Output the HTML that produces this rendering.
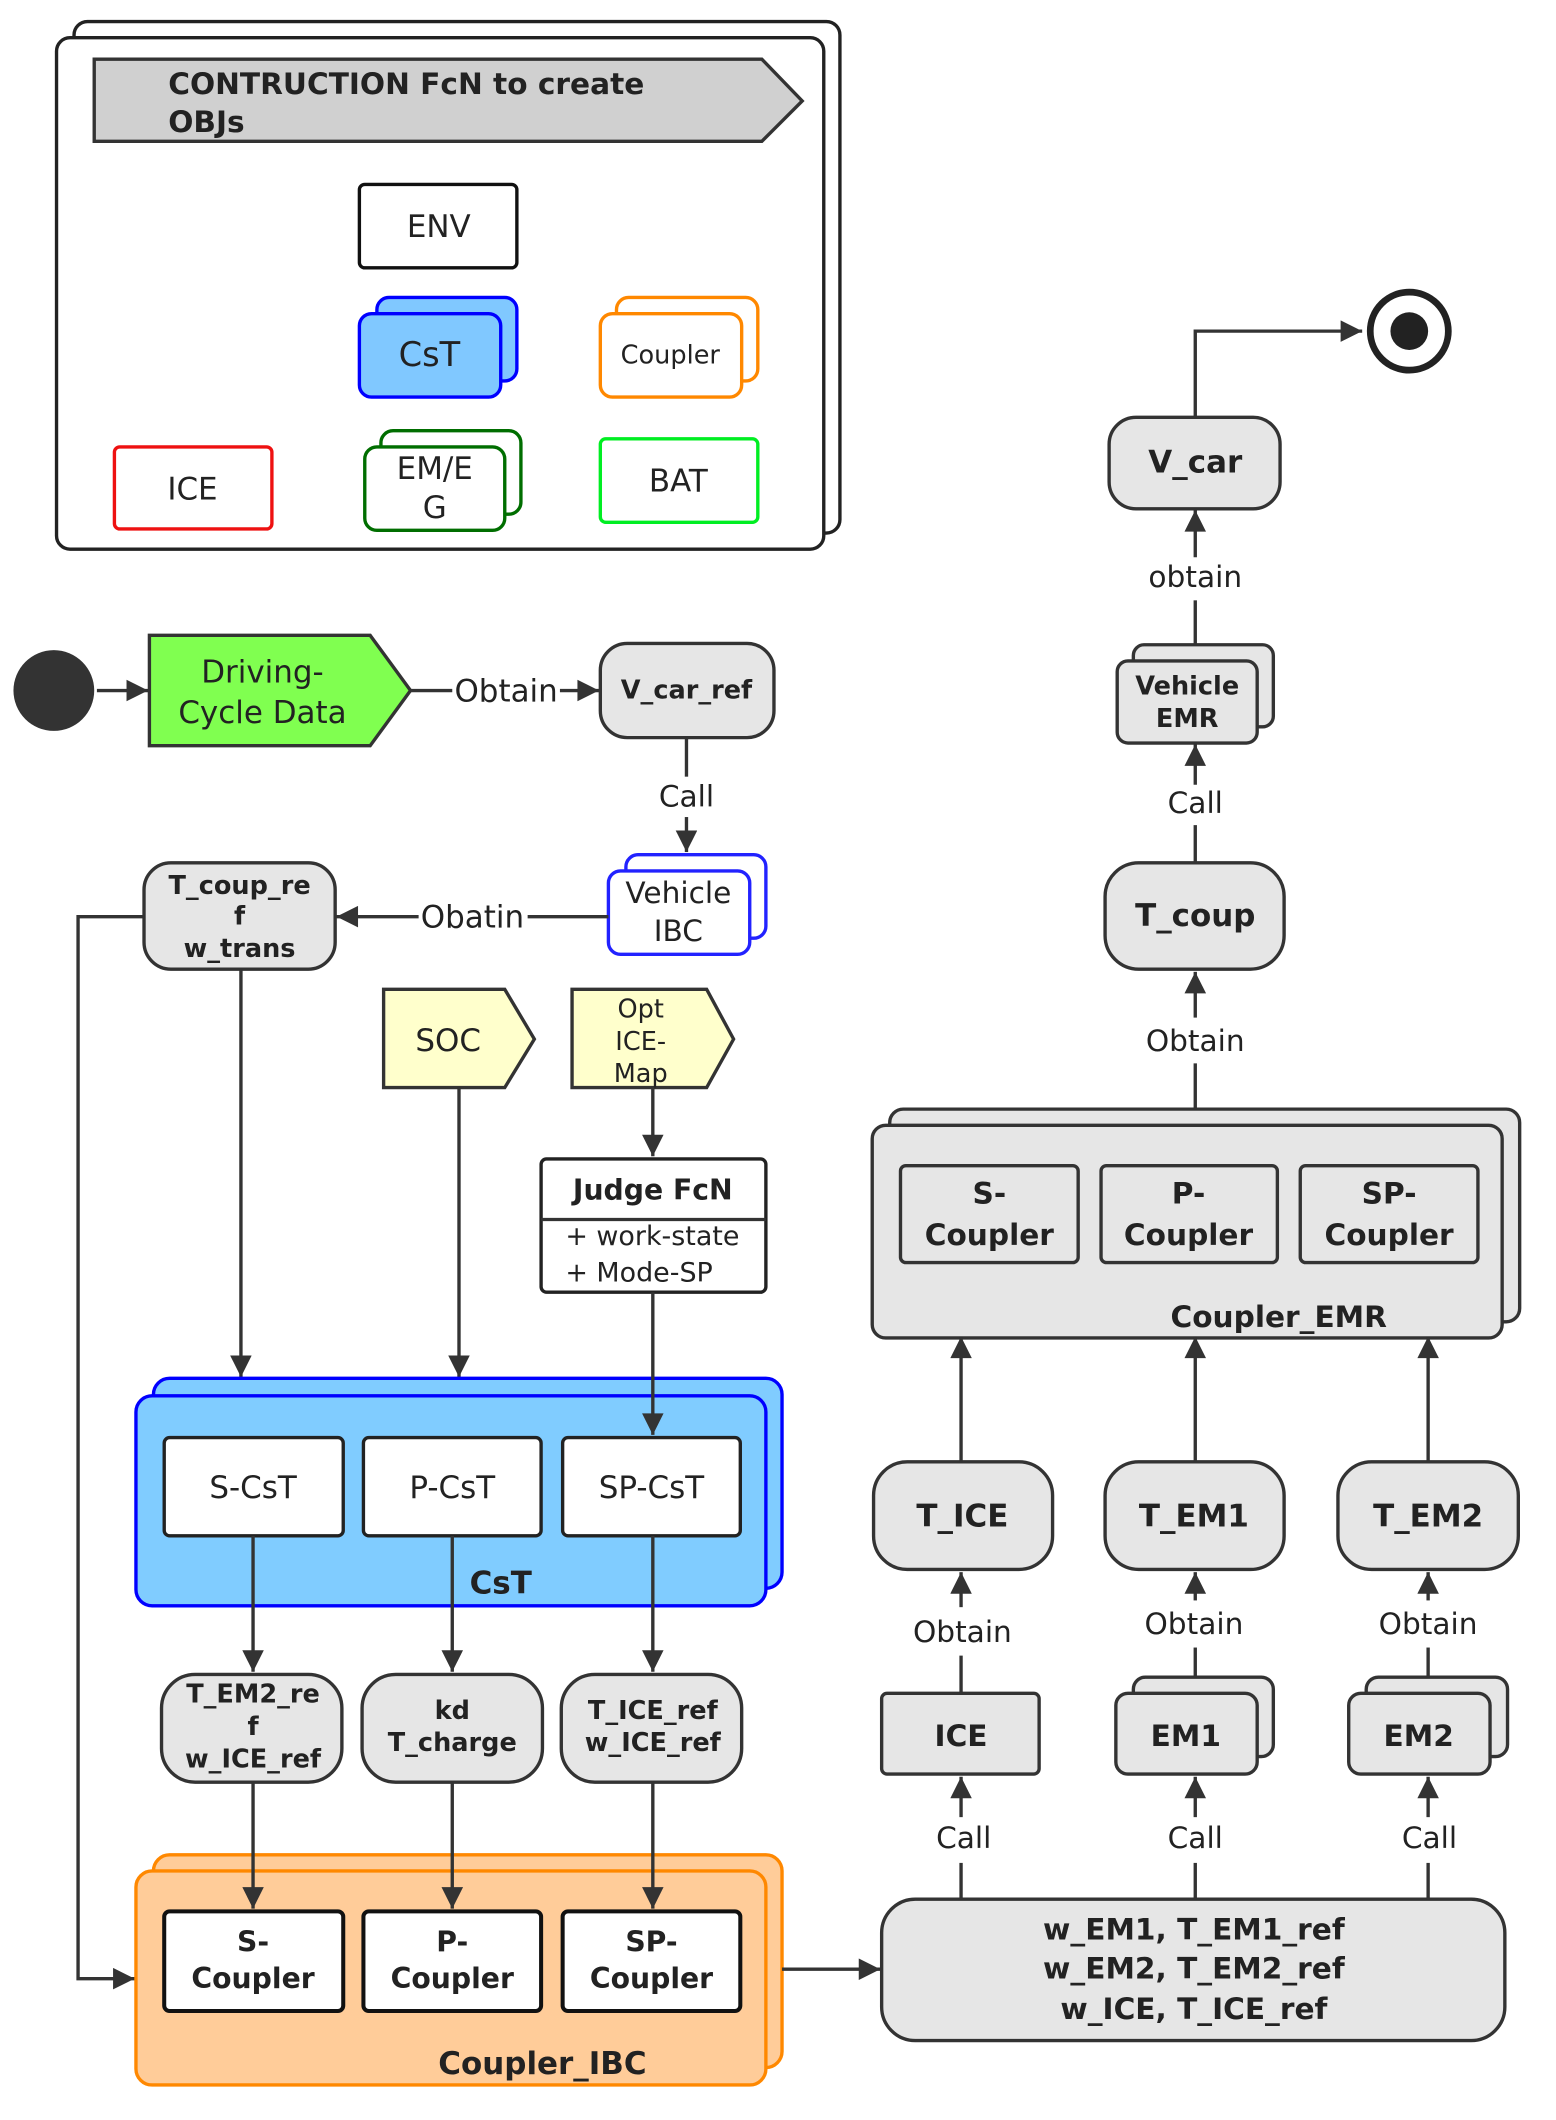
<!DOCTYPE html>
<html><head><meta charset="utf-8"><style>html,body{margin:0;padding:0;background:#fff}svg{display:block}</style></head>
<body>
<svg xmlns="http://www.w3.org/2000/svg" width="1556" height="2120" viewBox="0 0 1156 1575">
<defs>
<marker id="b" viewBox="0 0 10 10" refX="10" refY="5" markerWidth="22" markerHeight="16" orient="auto" markerUnits="userSpaceOnUse"><path d="M0,0L10,5L0,10z" fill="#333"/></marker>
</defs>
<style>
text{font-family:"DejaVu Sans","Liberation Sans",sans-serif;fill:#222;text-anchor:middle}
.b{font-weight:bold}
.l{stroke:#333;stroke-width:2.5;fill:none}
.g{fill:#e6e6e6;stroke:#333;stroke-width:2.5}
.w{fill:#fff;stroke:#222;stroke-width:2.5}
</style>
<rect x="55" y="16" width="569" height="380" rx="10" class="w"/>
<rect x="42" y="28" width="570" height="380" rx="10" class="w"/>
<polygon points="70,44 566,44 596,75 566,105 70,105" fill="#d0d0d0" stroke="#333" stroke-width="2.5"/>
<text x="125" y="70" class="b" font-size="22" style="text-anchor:start">CONTRUCTION FcN to create</text>
<text x="125" y="98" class="b" font-size="22" style="text-anchor:start">OBJs</text>
<rect x="267" y="137" width="117" height="62" rx="4" fill="#fff" stroke="#111" stroke-width="2.5"/>
<text x="326" y="176" font-size="23">ENV</text>
<rect x="280" y="221" width="104" height="62" rx="9" fill="#80c8ff" stroke="#0000ff" stroke-width="2.5"/>
<rect x="267" y="233" width="105" height="62" rx="9" fill="#80c8ff" stroke="#0000ff" stroke-width="2.5"/>
<text x="319" y="272" font-size="25">CsT</text>
<rect x="458" y="221" width="105" height="62" rx="9" fill="#fff" stroke="#ff8800" stroke-width="2.5"/>
<rect x="446" y="233" width="105" height="62" rx="9" fill="#fff" stroke="#ff8800" stroke-width="2.5"/>
<text x="498" y="270" font-size="19">Coupler</text>
<rect x="85" y="332" width="117" height="61" rx="4" fill="#fff" stroke="#ee1111" stroke-width="2.5"/>
<text x="143" y="371" font-size="23">ICE</text>
<rect x="283" y="320" width="104" height="62" rx="9" fill="#fff" stroke="#006e00" stroke-width="2.5"/>
<rect x="271" y="332" width="104" height="62" rx="9" fill="#fff" stroke="#006e00" stroke-width="2.5"/>
<text x="323" y="356" font-size="23">EM/E</text>
<text x="323" y="385" font-size="23">G</text>
<rect x="446" y="326" width="117" height="62" rx="4" fill="#fff" stroke="#00ee22" stroke-width="2.5"/>
<text x="504" y="365" font-size="23">BAT</text>

<circle cx="40" cy="513" r="30" fill="#333"/>
<line x1="72" y1="513" x2="110" y2="513" class="l" marker-end="url(#b)"/>
<polygon points="111,472 275,472 305,513 275,554 111,554" fill="#80ff50" stroke="#333" stroke-width="2.5"/>
<text x="195" y="507" font-size="23">Driving-</text>
<text x="195" y="537" font-size="23">Cycle Data</text>
<line x1="305" y1="513" x2="336" y2="513" class="l"/>
<text x="376" y="521" font-size="23">Obtain</text>
<line x1="416" y1="513" x2="445" y2="513" class="l" marker-end="url(#b)"/>
<rect x="446" y="478" width="129" height="70" rx="20" class="g"/>
<text x="510" y="519" class="b" font-size="19">V_car_ref</text>
<line x1="510" y1="548" x2="510" y2="577" class="l"/>
<text x="510" y="599" font-size="22">Call</text>
<line x1="510" y1="607" x2="510" y2="633" class="l" marker-end="url(#b)"/>
<rect x="465" y="635" width="104" height="62" rx="9" fill="#fff" stroke="#2222ff" stroke-width="2.5"/>
<rect x="452" y="647" width="105" height="62" rx="9" fill="#fff" stroke="#2222ff" stroke-width="2.5"/>
<text x="504" y="671" font-size="22">Vehicle</text>
<text x="504" y="699" font-size="22">IBC</text>
<line x1="452" y1="681" x2="392" y2="681" class="l"/>
<text x="351" y="689" font-size="23">Obatin</text>
<line x1="311" y1="681" x2="250" y2="681" class="l" marker-end="url(#b)"/>
<rect x="107" y="641" width="142" height="79" rx="20" class="g"/>
<text x="178" y="664" class="b" font-size="19">T_coup_re</text>
<text x="178" y="687" class="b" font-size="19">f</text>
<text x="178" y="711" class="b" font-size="19">w_trans</text>
<polyline points="107,681 58,681 58,1470 100,1470" class="l" marker-end="url(#b)"/>
<line x1="179" y1="720" x2="179" y2="1023" class="l" marker-end="url(#b)"/>
<polygon points="285,735 375,735 397,772 375,808 285,808" fill="#ffffcc" stroke="#333" stroke-width="2.5"/>
<text x="333" y="781" font-size="23">SOC</text>
<polygon points="425,735 525,735 545,772 525,808 425,808" fill="#ffffcc" stroke="#333" stroke-width="2.5"/>
<text x="476" y="756" font-size="19">Opt</text>
<text x="476" y="780" font-size="19">ICE-</text>
<text x="476" y="804" font-size="19">Map</text>
<line x1="341" y1="808" x2="341" y2="1023" class="l" marker-end="url(#b)"/>
<line x1="485" y1="808" x2="485" y2="859" class="l" marker-end="url(#b)"/>
<rect x="402" y="861" width="167" height="99" rx="4" class="w"/>
<line x1="402" y1="906" x2="569" y2="906" class="l"/>
<text x="485" y="891" class="b" font-size="21">Judge FcN</text>
<text x="420" y="925" font-size="20" style="text-anchor:start">+ work-state</text>
<text x="420" y="952" font-size="20" style="text-anchor:start">+ Mode-SP</text>

<rect x="114" y="1024" width="467" height="156" rx="12" fill="#80ccff" stroke="#0000ff" stroke-width="2.5"/>
<rect x="101" y="1037" width="468" height="156" rx="12" fill="#80ccff" stroke="#0000ff" stroke-width="2.5"/>
<line x1="485" y1="960" x2="485" y2="1066" class="l" marker-end="url(#b)"/>
<text x="372" y="1184" class="b" font-size="23">CsT</text>
<rect x="122" y="1068" width="133" height="73" rx="4" class="w"/>
<rect x="270" y="1068" width="132" height="73" rx="4" class="w"/>
<rect x="418" y="1068" width="132" height="73" rx="4" class="w"/>
<text x="188" y="1113" font-size="23">S-CsT</text>
<text x="336" y="1113" font-size="23">P-CsT</text>
<text x="484" y="1113" font-size="23">SP-CsT</text>
<line x1="188" y1="1141" x2="188" y2="1242" class="l" marker-end="url(#b)"/>
<line x1="336" y1="1141" x2="336" y2="1242" class="l" marker-end="url(#b)"/>
<line x1="485" y1="1141" x2="485" y2="1242" class="l" marker-end="url(#b)"/>
<rect x="120" y="1244" width="134" height="80" rx="25" class="g"/>
<rect x="269" y="1244" width="134" height="80" rx="25" class="g"/>
<rect x="417" y="1244" width="134" height="80" rx="25" class="g"/>
<text x="188" y="1265" class="b" font-size="19">T_EM2_re</text>
<text x="188" y="1289" class="b" font-size="19">f</text>
<text x="188" y="1313" class="b" font-size="19">w_ICE_ref</text>
<text x="336" y="1277" class="b" font-size="19">kd</text>
<text x="336" y="1301" class="b" font-size="19">T_charge</text>
<text x="485" y="1277" class="b" font-size="19">T_ICE_ref</text>
<text x="485" y="1301" class="b" font-size="19">w_ICE_ref</text>
<rect x="114" y="1378" width="467" height="158" rx="12" fill="#ffcc99" stroke="#ff8800" stroke-width="2.5"/>
<rect x="101" y="1390" width="468" height="159" rx="12" fill="#ffcc99" stroke="#ff8800" stroke-width="2.5"/>
<line x1="188" y1="1324" x2="188" y2="1418" class="l" marker-end="url(#b)"/>
<line x1="336" y1="1324" x2="336" y2="1418" class="l" marker-end="url(#b)"/>
<line x1="485" y1="1324" x2="485" y2="1418" class="l" marker-end="url(#b)"/>
<text x="403" y="1541" class="b" font-size="23">Coupler_IBC</text>
<rect x="122" y="1420" width="133" height="74" rx="4" fill="#fff" stroke="#111" stroke-width="3"/>
<rect x="270" y="1420" width="132" height="74" rx="4" fill="#fff" stroke="#111" stroke-width="3"/>
<rect x="418" y="1420" width="132" height="74" rx="4" fill="#fff" stroke="#111" stroke-width="3"/>
<text x="188" y="1450" class="b" font-size="21">S-</text>
<text x="188" y="1477" class="b" font-size="21">Coupler</text>
<text x="336" y="1450" class="b" font-size="21">P-</text>
<text x="336" y="1477" class="b" font-size="21">Coupler</text>
<text x="484" y="1450" class="b" font-size="21">SP-</text>
<text x="484" y="1477" class="b" font-size="21">Coupler</text>
<line x1="581" y1="1463" x2="654" y2="1463" class="l" marker-end="url(#b)"/>

<rect x="655" y="1411" width="463" height="105" rx="25" class="g"/>
<text x="887" y="1441" class="b" font-size="22">w_EM1, T_EM1_ref</text>
<text x="887" y="1470" class="b" font-size="22">w_EM2, T_EM2_ref</text>
<text x="887" y="1500" class="b" font-size="22">w_ICE, T_ICE_ref</text>
<line x1="714" y1="1411" x2="714" y2="1384" class="l"/><line x1="714" y1="1350" x2="714" y2="1320" class="l" marker-end="url(#b)"/>
<line x1="888" y1="1411" x2="888" y2="1384" class="l"/><line x1="888" y1="1350" x2="888" y2="1320" class="l" marker-end="url(#b)"/>
<line x1="1061" y1="1411" x2="1061" y2="1384" class="l"/><line x1="1061" y1="1350" x2="1061" y2="1320" class="l" marker-end="url(#b)"/>
<text x="716" y="1373" font-size="22">Call</text>
<text x="888" y="1373" font-size="22">Call</text>
<text x="1062" y="1373" font-size="22">Call</text>
<rect x="655" y="1258" width="117" height="60" rx="4" class="g"/>
<text x="714" y="1297" class="b" font-size="22">ICE</text>
<rect x="842" y="1246" width="104" height="59" rx="9" class="g"/>
<rect x="829" y="1258" width="105" height="60" rx="9" class="g"/>
<text x="881" y="1297" class="b" font-size="22">EM1</text>
<rect x="1015" y="1246" width="105" height="59" rx="9" class="g"/>
<rect x="1002" y="1258" width="105" height="60" rx="9" class="g"/>
<text x="1054" y="1297" class="b" font-size="22">EM2</text>
<line x1="714" y1="1258" x2="714" y2="1230" class="l"/><line x1="714" y1="1194" x2="714" y2="1168" class="l" marker-end="url(#b)"/>
<line x1="888" y1="1246" x2="888" y2="1224" class="l"/><line x1="888" y1="1189" x2="888" y2="1168" class="l" marker-end="url(#b)"/>
<line x1="1061" y1="1246" x2="1061" y2="1224" class="l"/><line x1="1061" y1="1189" x2="1061" y2="1168" class="l" marker-end="url(#b)"/>
<text x="715" y="1220" font-size="22">Obtain</text>
<text x="887" y="1214" font-size="22">Obtain</text>
<text x="1061" y="1214" font-size="22">Obtain</text>
<rect x="649" y="1086" width="133" height="80" rx="25" class="g"/>
<rect x="821" y="1086" width="133" height="80" rx="25" class="g"/>
<rect x="994" y="1086" width="134" height="80" rx="25" class="g"/>
<text x="715" y="1134" class="b" font-size="23">T_ICE</text>
<text x="887" y="1134" class="b" font-size="23">T_EM1</text>
<text x="1061" y="1134" class="b" font-size="23">T_EM2</text>
<rect x="661" y="824" width="468" height="158" rx="10" class="g"/>
<rect x="648" y="836" width="468" height="158" rx="10" class="g"/>
<line x1="714" y1="1086" x2="714" y2="993" class="l" marker-end="url(#b)"/>
<line x1="888" y1="1086" x2="888" y2="993" class="l" marker-end="url(#b)"/>
<line x1="1061" y1="1086" x2="1061" y2="993" class="l" marker-end="url(#b)"/>
<rect x="669" y="866" width="132" height="72" rx="4" class="g"/>
<rect x="818" y="866" width="131" height="72" rx="4" class="g"/>
<rect x="966" y="866" width="132" height="72" rx="4" class="g"/>
<text x="735" y="894" class="b" font-size="22">S-</text>
<text x="735" y="925" class="b" font-size="22">Coupler</text>
<text x="883" y="894" class="b" font-size="22">P-</text>
<text x="883" y="925" class="b" font-size="22">Coupler</text>
<text x="1032" y="894" class="b" font-size="22">SP-</text>
<text x="1032" y="925" class="b" font-size="22">Coupler</text>
<text x="950" y="986" class="b" font-size="22">Coupler_EMR</text>
<line x1="888" y1="824" x2="888" y2="790" class="l"/>
<text x="888" y="781" font-size="22">Obtain</text>
<line x1="888" y1="756" x2="888" y2="722" class="l" marker-end="url(#b)"/>
<rect x="821" y="641" width="133" height="79" rx="25" class="g"/>
<text x="888" y="688" class="b" font-size="23">T_coup</text>
<line x1="888" y1="641" x2="888" y2="613" class="l"/>
<text x="888" y="604" font-size="22">Call</text>
<line x1="888" y1="583" x2="888" y2="553" class="l" marker-end="url(#b)"/>
<rect x="842" y="479" width="104" height="61" rx="8" class="g"/>
<rect x="830" y="491" width="104" height="61" rx="8" class="g"/>
<text x="882" y="516" class="b" font-size="19">Vehicle</text>
<text x="882" y="540" class="b" font-size="19">EMR</text>
<line x1="888" y1="479" x2="888" y2="446" class="l"/>
<text x="888" y="436" font-size="22">obtain</text>
<line x1="888" y1="414" x2="888" y2="379" class="l" marker-end="url(#b)"/>
<rect x="824" y="310" width="127" height="68" rx="20" class="g"/>
<text x="888" y="351" class="b" font-size="23">V_car</text>
<polyline points="888,310 888,246 1012,246" class="l" marker-end="url(#b)"/>
<circle cx="1047" cy="246" r="29" fill="#fff" stroke="#222" stroke-width="5"/>
<circle cx="1047" cy="246" r="14" fill="#222"/>
</svg>
</body></html>
